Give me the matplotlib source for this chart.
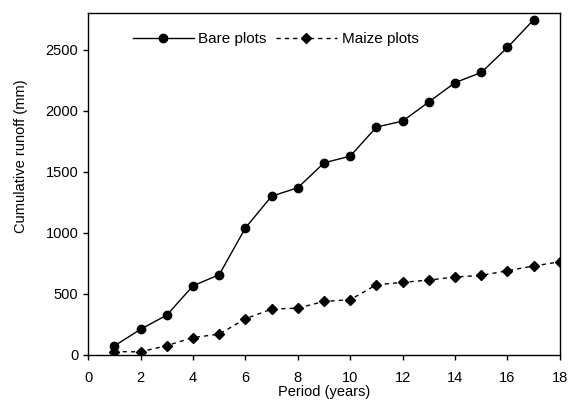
import matplotlib
matplotlib.use("Agg")
import matplotlib.pyplot as plt

years_bare = list(range(1, 18))
bare = [74, 210, 326, 566, 657, 1040, 1300, 1369, 1573, 1628,
        1866, 1915, 2072, 2230, 2313, 2518, 2745]

years_maize = list(range(1, 19))
maize = [27, 25, 76, 142, 170, 296, 375, 383, 438, 452,
         575, 594, 613, 638, 651, 690, 728, 763]

plt.rcParams['font.family'] = ['Liberation Sans', 'DejaVu Sans']
plt.rcParams['font.size'] = 10.5

fig = plt.figure(figsize=(5.69, 4.07), dpi=100)
ax = fig.add_axes([0.155, 0.128, 0.829, 0.84])

ax.plot(years_bare, bare, color='black', linewidth=1, marker='o',
        markersize=6, label='Bare plots')
ax.plot(years_maize, maize, color='black', linewidth=1, linestyle=(0, (3, 3)),
        marker='D', markersize=5, label='Maize plots')

ax.set_xlim(0, 18)
ax.set_ylim(0, 2800)
ax.set_xticks(range(0, 19, 2))
ax.set_yticks(range(0, 2501, 500))
ax.tick_params(direction='out', length=3.5, width=1, colors='black', labelsize=10.5)
ax.tick_params(axis='x', pad=8)
for s in ax.spines.values():
    s.set_linewidth(1)
ax.set_xlabel("Period (years)", fontsize=10.5, labelpad=0)
ax.set_ylabel("Cumulative runoff (mm)", fontsize=10.5)
ax.yaxis.set_label_coords(-0.128, 0.58)

ax.legend(loc='upper left', bbox_to_anchor=(0.065, 0.985), ncol=2, frameon=False,
          handlelength=4.0, handletextpad=0.3, columnspacing=0.6, fontsize=11)

fig.savefig('out.png', dpi=100)
